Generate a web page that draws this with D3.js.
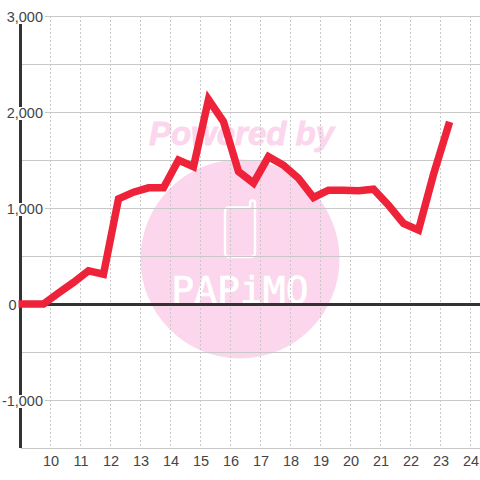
<!DOCTYPE html>
<html><head><meta charset="utf-8">
<script src="https://cdn.jsdelivr.net/npm/d3@7"></script>
<style>html,body{margin:0;padding:0;background:#fff}svg{display:block}</style>
</head><body><svg id="c" width="480" height="480"></svg>
<script>
const times=[9,9.75,10.25,10.75,11.25,11.75,12.25,12.75,13.25,13.75,14.25,14.75,15.25,15.75,16.25,16.75,17.25,17.75,18.25,18.75,19.25,19.75,20.25,20.75,21.25,21.75,22.25,22.75,23.25];
const values=[0,0,115,225,345,310,1095,1165,1210,1210,1500,1430,2130,1900,1380,1260,1535,1445,1310,1110,1185,1185,1180,1195,1030,840,770,1350,1860];
const xTicks=[10,11,12,13,14,15,16,17,18,19,20,21,22,23,24];
const yTicks=[3000,2000,1000,0,-1000];
const yMinor=[2500,1500,500,-500,-1500];
const wmTitle="Powered by", wmBrand="PAPiMO";
const svg=d3.select("#c");
const x=d3.scaleLinear().domain([9,24.3]).range([21,480]);
const y=d3.scaleLinear().domain([-1500,3000]).range([448,16]);
const sans='"Liberation Sans",Arial,sans-serif';
const pink="#fbd6ec";
const wm=svg.append("g");
wm.append("circle").attr("cx",240).attr("cy",259).attr("r",99.5).attr("fill",pink);
wm.append("text").attr("x",241.5).attr("y",145).attr("text-anchor","middle").attr("font-family",sans).attr("font-weight","bold").attr("font-style","italic").attr("font-size",33).attr("fill",pink).attr("stroke",pink).attr("stroke-width",0.8).text(wmTitle);
wm.append("path").attr("d","M250 207.5H229a4 4 0 0 0 -4 4V253a4 4 0 0 0 4 4h22a4 4 0 0 0 4 -4V203a2.5 2.5 0 0 0 -5 0v4.5").attr("fill","none").attr("stroke","#fff").attr("stroke-width",2.5);
wm.append("text").attr("x",240).attr("y",303).attr("text-anchor","middle").attr("font-family",'"DejaVu Sans Mono"').attr("font-size",38).attr("fill","#fff").attr("stroke","#fff").attr("stroke-width",0.7).text(wmBrand);
const grid=svg.append("g").attr("shape-rendering","crispEdges");
grid.selectAll("line.h").data(yTicks.concat(yMinor)).join("line").attr("class","h").attr("x1",x(9)).attr("x2",480).attr("y1",d=>y(d)+.5).attr("y2",d=>y(d)+.5).attr("stroke","#c8c8c8");
grid.selectAll("line.v").data(xTicks).join("line").attr("class","v").attr("x1",d=>x(d)-.5).attr("x2",d=>x(d)-.5).attr("y1",16).attr("y2",448).attr("stroke","#c8c8c8").attr("stroke-dasharray","2 2");
const ax=svg.append("g").attr("shape-rendering","crispEdges");
ax.append("line").attr("x1",x(9)-.5).attr("x2",x(9)-.5).attr("y1",16).attr("y2",448).attr("stroke","#333").attr("stroke-width",3);
ax.append("line").attr("x1",x(9)).attr("x2",480).attr("y1",y(0)+.5).attr("y2",y(0)+.5).attr("stroke","#333").attr("stroke-width",3);
svg.append("path").datum(times.map((t,i)=>[t,values[i]])).attr("d",d3.line().x(d=>x(d[0])).y(d=>y(d[1]))).attr("fill","none").attr("stroke","#ee2239").attr("stroke-width",7.5).attr("stroke-linejoin","miter").attr("stroke-linecap","square");
const fmt=d=>d3.format(",")(d).replace("\u2212","-");
const yl=svg.append("g").selectAll("g").data(yTicks).join("g");
yl.append("text").attr("x",d=>d===0?16.5:43).attr("y",d=>y(d)+6).attr("text-anchor","end").attr("font-family",sans).attr("font-size",14.5).attr("fill","#444").text(fmt).each(function(d){
  const b=this.getBBox();
  d3.select(this.parentNode).insert("rect","text").attr("x",b.x).attr("y",y(d)-5).attr("width",b.width+2).attr("height",13).attr("fill","#fff");
});
svg.append("g").selectAll("text").data(xTicks).join("text").attr("x",d=>x(d)).attr("y",466).attr("text-anchor","middle").attr("font-family",sans).attr("font-size",14.5).attr("fill","#444").text(d=>d);
</script></body></html>
